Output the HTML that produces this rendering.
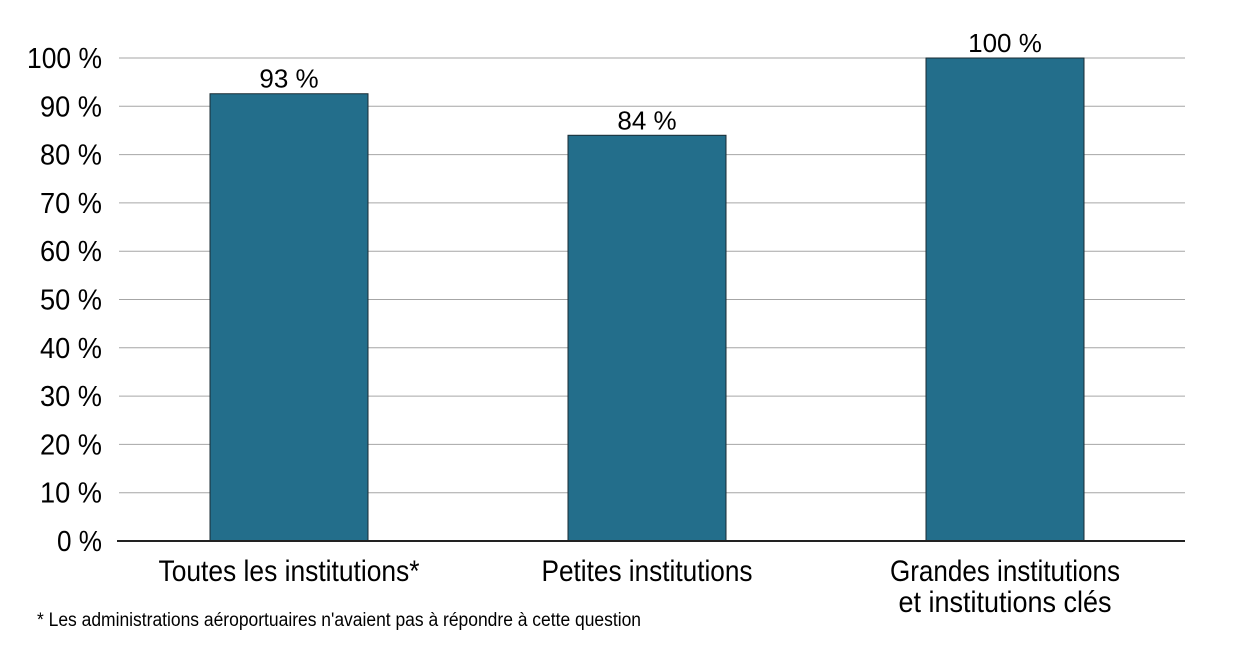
<!DOCTYPE html>
<html><head><meta charset="utf-8"><style>
html,body{margin:0;padding:0;background:#fff;}
svg{display:block;font-family:"Liberation Sans Narrow","Liberation Sans",sans-serif;}
</style></head><body>
<svg id="chart" width="1240" height="668" viewBox="0 0 1240 668" xmlns="http://www.w3.org/2000/svg">
<g id="grid"></g>
<g id="yticks"></g>
<g id="bars"></g>
<line x1="117" y1="541" x2="1185" y2="541" stroke="#222" stroke-width="2"/>
<g id="xlabels"></g>
<text x="37" y="626" font-size="19" fill="#000" textLength="604" lengthAdjust="spacingAndGlyphs">* Les administrations aéroportuaires n'avaient pas à répondre à cette question</text>
</svg>
<script>
const categories = [["Toutes les institutions*"], ["Petites institutions"], ["Grandes institutions", "et institutions clés"]];
const values = [92.6, 84.0, 100];
const valueLabels = ["93 %", "84 %", "100 %"];
const yTicks = [0, 10, 20, 30, 40, 50, 60, 70, 80, 90, 100];
const yTickLabels = ["0 %", "10 %", "20 %", "30 %", "40 %", "50 %", "60 %", "70 %", "80 %", "90 %", "100 %"];

const NS = "http://www.w3.org/2000/svg";
const y0 = 541, y100 = 58;
const yScale = v => y0 - (y0 - y100) * v / 100;
const plotL = 117, plotR = 1185, barW = 158;
const xCenter = i => 289 + 358 * i;
function mk(tag, attrs, parent, text){
  const e = document.createElementNS(NS, tag);
  for (const k in attrs) e.setAttribute(k, attrs[k]);
  if (text !== undefined) e.textContent = text;
  parent.appendChild(e); return e;
}
const grid = document.getElementById('grid'), yt = document.getElementById('yticks');
yTicks.forEach((t, i) => {
  if (t > 0) {
    const l = mk('line', {x1: 119, x2: plotR, y1: yScale(t), y2: yScale(t), stroke: '#a6a6a6', 'stroke-width': 1}, grid);
    
    
  }
  const lab = yTickLabels[i];
  const w = lab.length === 5 ? 75 : (lab.length === 4 ? 62 : 45);
  const tx = mk('text', {x: 102, y: yScale(t) + 10, 'text-anchor': 'end', 'font-size': 29, fill: '#000', textLength: w, lengthAdjust: 'spacingAndGlyphs'}, yt, lab);
  
  
});
const bars = document.getElementById('bars'), xl = document.getElementById('xlabels');
const labelWidths = [[261], [211], [230, 213]];
values.forEach((v, i) => {
  const cx = xCenter(i);
  const r = mk('rect', {x: cx - barW / 2, y: yScale(v), width: barW, height: y0 - yScale(v), fill: '#236e8b', stroke: '#1a2b33', 'stroke-width': 1}, bars);
  
  
  const vl = mk('text', {x: cx, y: yScale(v) - 6, 'text-anchor': 'middle', 'font-size': 26, fill: '#000', 'font-family': '"Liberation Sans", sans-serif'}, bars, valueLabels[i]);
  
  
  categories[i].forEach((line, j) => {
    const t = mk('text', {x: cx, y: 581 + j * 31, 'text-anchor': 'middle', 'font-size': 30, fill: '#000', textLength: labelWidths[i][j], lengthAdjust: 'spacingAndGlyphs'}, xl, line);
    
    
  });
});
</script>
</body></html>
